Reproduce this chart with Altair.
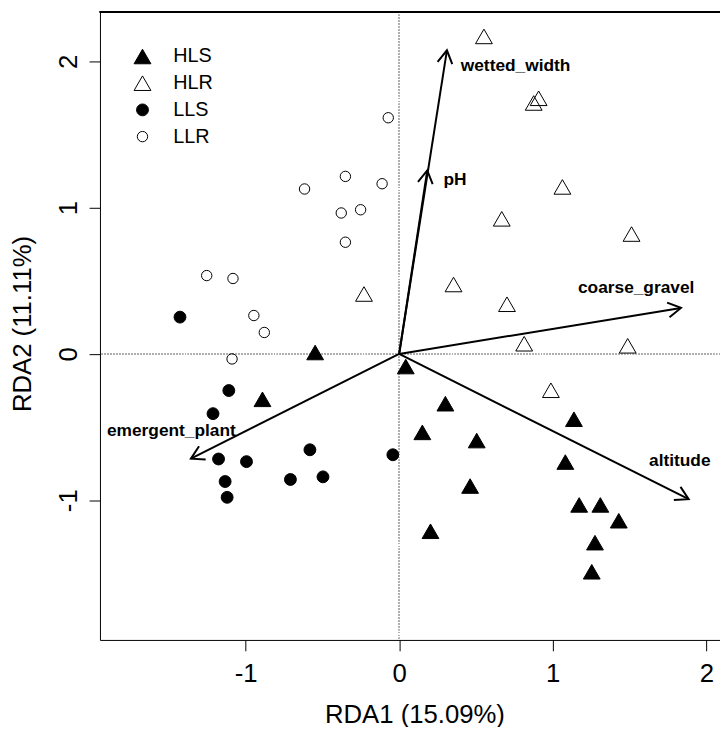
import math
import altair as alt
import pandas as pd

# ---- data ----
groups = ["HLS", "HLR", "LLS", "LLR"]

hls_x = [-0.547, -0.89, 0.043, 0.301, 0.151, 0.505, 1.138, 1.082, 0.462, 1.172, 1.31, 1.43, 0.204, 1.275, 1.254]
hls_y = [0.01, -0.31, -0.086, -0.34, -0.536, -0.592, -0.446, -0.739, -0.903, -1.032, -1.032, -1.14, -1.212, -1.29, -1.489]

hlr_x = [0.552, 0.908, 0.876, 1.063, 0.668, 1.513, 0.354, 0.702, 0.814, 1.488, 0.988, -0.229]
hlr_y = [2.171, 1.748, 1.716, 1.142, 0.924, 0.82, 0.475, 0.34, 0.07, 0.056, -0.248, 0.41]

lls_x = [-1.427, -1.109, -1.212, -1.176, -0.994, -0.581, -0.496, -0.708, -1.133, -1.12, -0.041]
lls_y = [0.252, -0.25, -0.408, -0.718, -0.736, -0.655, -0.84, -0.858, -0.872, -0.98, -0.689]

llr_x = [-0.071, -0.35, -0.111, -0.616, -0.251, -0.377, -0.35, -1.253, -1.082, -0.946, -0.878, -1.088]
llr_y = [1.615, 1.214, 1.164, 1.128, 0.986, 0.964, 0.764, 0.536, 0.516, 0.263, 0.147, -0.034]

env_names = ["wetted_width", "pH", "coarse_gravel", "altitude", "emergent_plant"]
env_x = [0.311, 0.183, 1.835, 1.885, -1.356]
env_y = [2.076, 1.255, 0.315, -0.993, -0.716]
lab_x = [0.758, 0.363, 1.543, 1.827, -1.483]
lab_y = [1.971, 1.191, 0.448, -0.732, -0.525]

x_ticks = [-1, 0, 1, 2]
y_ticks = [-1, 0, 1, 2]
x_title = "RDA1 (15.09%)"
y_title = "RDA2 (11.11%)"

# ---- layout / style ----
W, H = 627, 635
XMIN, XMAX = -1.948, 2.089
YMIN, YMAX = -1.955, 2.338
FONT = "Liberation Sans"

shapes = ["triangle-up", "triangle-up", "circle", "circle"]
fills = ["black", "transparent", "black", "transparent"]
sizes = [289, 289, 144, 110]

rows = []
for g, xs_, ys_ in zip(groups, [hls_x, hlr_x, lls_x, llr_x], [hls_y, hlr_y, lls_y, llr_y]):
    for a, b in zip(xs_, ys_):
        rows.append({"group": g, "x": a, "y": b})
pts = pd.DataFrame(rows)

sx = W / (XMAX - XMIN)
sy = H / (YMAX - YMIN)
env = pd.DataFrame({
    "name": env_names, "x0": 0.0, "y0": 0.0, "x": env_x, "y": env_y,
    "lx": lab_x, "ly": lab_y,
})
env["angle"] = [(math.degrees(math.atan2(a * sx, b * sy)) + 360) % 360 for a, b in zip(env_x, env_y)]

xscale = alt.Scale(domain=[XMIN, XMAX], nice=False, zero=False)
yscale = alt.Scale(domain=[YMIN, YMAX], nice=False, zero=False)

xaxis = alt.Axis(values=x_ticks, labelExpr="'' + datum.value", title=x_title,
                 grid=False, domain=True, domainColor="black", ticks=True, tickColor="black",
                 tickSize=11, labelFont=FONT, labelFontSize=26, labelColor="black",
                 labelFlush=False, labelOverlap=False, labelPadding=10, labelBaseline="top",
                 titleFont=FONT, titleFontSize=26, titleFontWeight="normal", titleColor="black",
                 titleX=318, titleY=83, titleBaseline="alphabetic", titleAlign="center", titleAnchor="start")
yaxis = alt.Axis(values=y_ticks, labelExpr="'' + datum.value", title=y_title,
                 grid=False, domain=True, domainColor="black", ticks=True, tickColor="black",
                 tickSize=11, labelFont=FONT, labelFontSize=26, labelColor="black",
                 labelFlush=False, labelOverlap=False, labelAngle=270, labelAlign="center",
                 labelBaseline="alphabetic", labelPadding=13,
                 titleFont=FONT, titleFontSize=26, titleFontWeight="normal", titleColor="black",
                 titleAngle=270, titleX=-70, titleY=315, titleBaseline="alphabetic",
                 titleAlign="center", titleAnchor="start")

def X(field):
    return alt.X(field, type="quantitative", scale=xscale, axis=xaxis)

def Y(field):
    return alt.Y(field, type="quantitative", scale=yscale, axis=yaxis)

base_env = alt.Chart(env)

zero_v = alt.Chart(pts).mark_rule(color="#b0b0b0", strokeDash=[1, 2], strokeWidth=1).encode(
    x=alt.X(datum=0, type="quantitative", scale=xscale, axis=xaxis),
)
zero_h = alt.Chart(pts).mark_rule(color="#b0b0b0", strokeDash=[1, 2], strokeWidth=1).encode(
    y=alt.Y(datum=0, type="quantitative", scale=yscale, axis=yaxis),
)
top_border = alt.Chart(pts).mark_rule(color="black", strokeWidth=1).encode(
    y=alt.Y(datum=YMAX, type="quantitative", scale=yscale, axis=yaxis),
)

points = alt.Chart(pts).mark_point(filled=True, stroke="black", strokeWidth=1, opacity=1).encode(
    x=X("x"), y=Y("y"),
    shape=alt.Shape("group:N", scale=alt.Scale(domain=groups, range=shapes),
                    legend=alt.Legend(title=None, orient="none", legendX=33, legendY=35,
                                      labelFont=FONT, labelFontSize=20, labelColor="black",
                                      symbolStrokeColor="black", symbolStrokeWidth=1,
                                      rowPadding=7, labelOffset=21, padding=0)),
    fill=alt.Fill("group:N", scale=alt.Scale(domain=groups, range=fills)),
    size=alt.Size("group:N", scale=alt.Scale(type="ordinal", domain=groups, range=sizes)),
)

shafts = base_env.mark_rule(color="black", strokeWidth=2).encode(
    x=X("x0"), y=Y("y0"), x2="x", y2="y",
)
heads = base_env.mark_point(shape="M -0.5 0.866 L 0 0 L 0.5 0.866", filled=False,
                            stroke="black", strokeWidth=2, size=900, opacity=1).encode(
    x=X("x"), y=Y("y"), angle=alt.Angle("angle:Q", scale=None),
)
labels = base_env.mark_text(font=FONT, fontSize=17.5, fontWeight="bold", color="black",
                            align="center", baseline="middle").encode(
    x=X("lx"), y=Y("ly"), text="name:N",
)

chart = alt.layer(zero_v, zero_h, top_border, points, shafts, heads, labels).properties(
    width=W, height=H,
    autosize=alt.AutoSizeParams(type="none"),
    padding={"left": 93, "top": 0, "right": 0, "bottom": 84},
).configure_view(stroke=None)

chart.save("out.html", embed_options={"renderer": "svg", "actions": False})
